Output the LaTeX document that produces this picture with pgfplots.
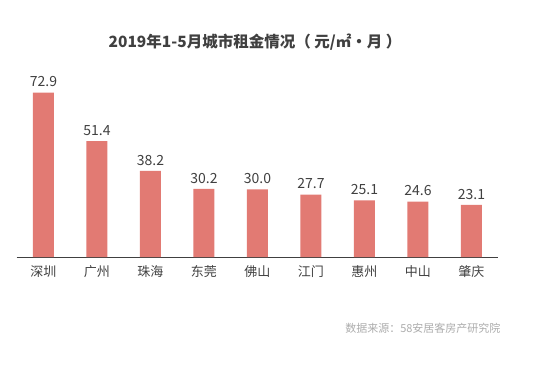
\documentclass[border=0pt]{standalone}
\usepackage{pgfplots}
\pgfplotsset{compat=1.18}
\usepackage{fontspec}
\setmainfont{Noto Sans CJK SC}
\definecolor{barc}{RGB}{226,122,115}
\definecolor{txt}{RGB}{64,64,64}
\begin{document}
\begin{tikzpicture}[x=1pt,y=1pt]
\path[use as bounding box] (0,0) rectangle (539,368);
\begin{axis}[
  at={(16.75pt,111pt)}, anchor=south west,
  scale only axis, width=481.5pt, height=180.4pt,
  xmin=-0.5, xmax=8.5, ymin=0, ymax=80,
  axis x line=bottom, axis y line=none,
  x axis line style={-, draw=txt, line width=0.8pt},
  xtick=data, major tick length=0pt,
  xticklabels={深圳,广州,珠海,东莞,佛山,江门,惠州,中山,肇庆},
  xticklabel style={font=\fontsize{13}{15}\selectfont, text=txt, yshift=-5pt},
  ybar, bar width=21pt,
  nodes near coords,
  every node near coord/.append style={font=\fontsize{14}{16}\selectfont, text=txt, yshift=2pt},
  /pgf/number format/.cd, fixed, fixed zerofill, precision=1, assume math mode=true,
]
\addplot[fill=barc, draw=none] coordinates {(0,72.9) (1,51.4) (2,38.2) (3,30.2) (4,30.0) (5,27.7) (6,25.1) (7,24.6) (8,23.1)};
\end{axis}
\node[font=\bfseries\fontsize{15.5}{17}\selectfont, text=txt] at (255,326) {2019年1-5月城市租金情况（ 元/㎡•月 ）};
\node[font=\fontsize{11}{13}\selectfont, text=gray!65, anchor=east] at (504,40) {数据来源：58安居客房产研究院};
\end{tikzpicture}
\end{document}
